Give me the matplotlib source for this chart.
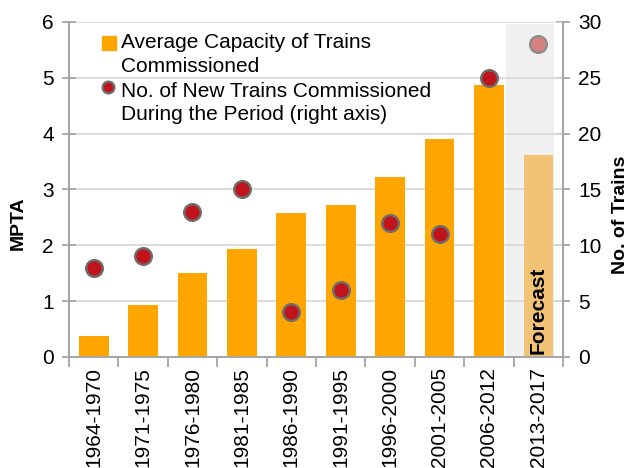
import matplotlib
matplotlib.use("Agg")
import matplotlib.pyplot as plt
from matplotlib.lines import Line2D

plt.rcParams['font.family'] = ['Liberation Sans', 'DejaVu Sans']

periods = ["1964-1970", "1971-1975", "1976-1980", "1981-1985", "1986-1990",
           "1991-1995", "1996-2000", "2001-2005", "2006-2012", "2013-2017"]
capacity = [0.37, 0.93, 1.50, 1.93, 2.58, 2.72, 3.23, 3.90, 4.87, 3.62]
trains = [8, 9, 13, 15, 4, 6, 12, 11, 25, 28]
forecast_flags = [False] * 9 + [True]
legend_lines = [["Average Capacity of Trains", "Commissioned"],
                ["No. of New Trains Commissioned", "During the Period (right axis)"]]

grey = "#A6A6A6"
W, H = 630, 468
fig = plt.figure(figsize=(6.3, 4.68), dpi=100)
ax = fig.add_axes([0.1095, 0.2372, 0.7842, 0.7158])
ax2 = ax.twinx()

x = list(range(len(periods)))

# forecast shaded region
ax2.bar(x[-1] - 0.16, 29.8, width=0.97, color="#F0F0F0", zorder=0)
ax2.set_zorder(0)

ax.set_zorder(1)
ax.patch.set_visible(False)

for xi in range(1, 7):
    ax.axhline(xi, color="#D9D9D9", lw=1.3, zorder=0.5)

bar_colors = ["#F2C374" if f else "#FFA500" for f in forecast_flags]
ax.bar(x, capacity, width=0.6, color=bar_colors, zorder=2)

ax.text(x[-1], 0.05, "Forecast", rotation=90, ha="center", va="bottom",
        fontsize=15, fontweight="bold", color="black", zorder=5)

scale = 6 / 30
for xi, t, f in zip(x, trains, forecast_flags):
    ax.plot(xi, t * scale, "o", ms=12, mfc="#D98080" if f else "#C0141C",
            mec="#8C8C8C" if f else "#6E6E6E", mew=1.7, zorder=4, clip_on=False)

ax.set_xlim(-0.5, len(periods) - 0.5)
ax.set_ylim(0, 6)
ax2.set_ylim(0, 30)
ax2.set_xlim(-0.5, len(periods) - 0.5)

ax.set_yticks(range(0, 7))
ax2.set_yticks(range(0, 31, 5))
ax.set_xticks(x)
ax.set_xticklabels(periods, rotation=90, fontsize=15)
ax.tick_params(axis="x", length=0, pad=7)
ax.set_xticks([i - 0.5 for i in range(len(periods) + 1)], minor=True)
ax.tick_params(axis="x", which="minor", length=7, direction="out", color=grey, width=1.3)
ax.tick_params(axis="y", labelsize=15, direction="inout", length=10, color=grey, width=1.3, pad=6)
ax2.tick_params(axis="y", labelsize=15, direction="inout", length=10, color=grey, width=1.3, pad=6)
ax2.tick_params(axis="x", length=0, labelbottom=False)

for a in (ax, ax2):
    a.spines["top"].set_visible(False)
    for s in ("left", "right", "bottom"):
        a.spines[s].set_color(grey)
        a.spines[s].set_linewidth(1.3)

ax.set_ylabel("MPTA", fontsize=14, fontweight="bold")
ax.yaxis.set_label_coords(-0.085, 0.40)
ax2.set_ylabel("No. of Trains", fontsize=14, fontweight="bold")
ax2.yaxis.set_label_coords(1.099, 0.424)

# manual legend (markers aligned with first line, as in the reference)
def fx(px):
    return px / W

def fy(py):
    return 1 - py / H

fig.add_artist(Line2D([fx(109)], [fy(43)], transform=fig.transFigure, marker="s",
                      ls="none", ms=10.5, mfc="#FFA500", mec="#FFA500"))
fig.add_artist(Line2D([fx(108)], [fy(87)], transform=fig.transFigure, marker="o",
                      ls="none", ms=8.5, mfc="#C0141C", mec="#6E6E6E", mew=1.6))
baselines = [48, 72, 97, 120]
k = 0
for entry in legend_lines:
    for line in entry:
        fig.text(fx(121), fy(baselines[k]), line, fontsize=15, va="baseline", ha="left")
        k += 1

fig.savefig("out.png", dpi=100)
